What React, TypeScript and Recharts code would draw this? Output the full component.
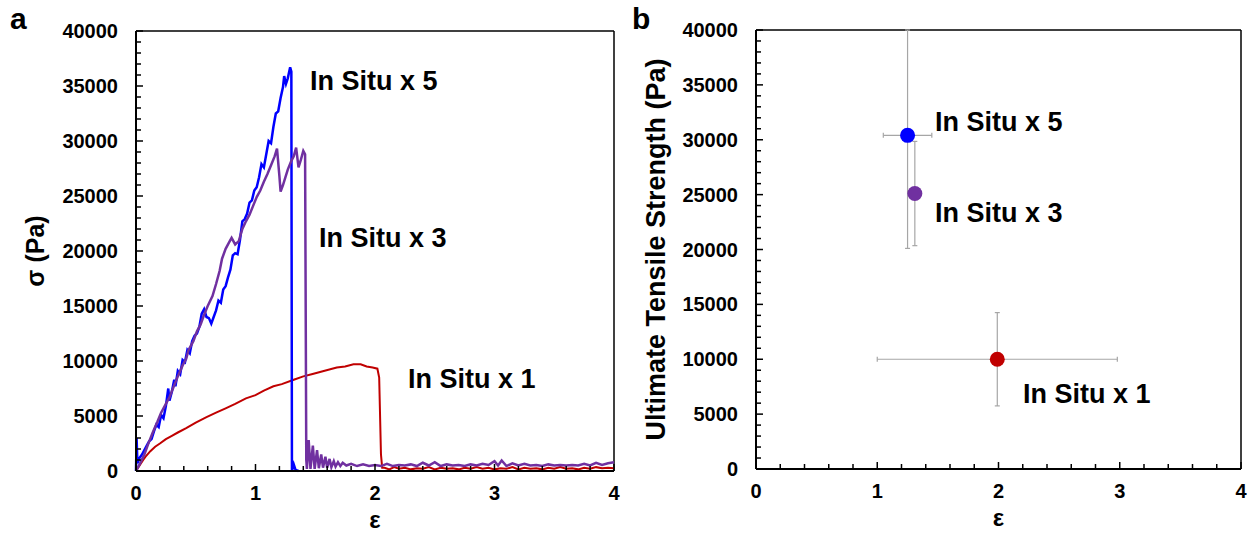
import React from 'react';
import {
  LineChart, Line, ScatterChart, Scatter, ErrorBar, XAxis, YAxis, ReferenceLine, ReferenceDot,
} from 'recharts';

const FONT = '"Liberation Sans", Arial, Helvetica, sans-serif';

// panel a: stress (Pa) vs strain
const inSitu5Curve = [
  [0, 0], [0.005, 3000], [0.012, 700], [0.03, 1200], [0.05, 1500], [0.07, 1900], [0.09, 2300],
  [0.11, 2700], [0.13, 2900], [0.15, 3600], [0.17, 4200], [0.19, 4000], [0.21, 5100], [0.23, 4800],
  [0.25, 5900], [0.27, 7500], [0.28, 6400], [0.3, 7200], [0.32, 8300], [0.33, 7700], [0.35, 9100],
  [0.37, 8800], [0.39, 10100], [0.41, 9900], [0.43, 11000], [0.45, 10700], [0.47, 11800],
  [0.49, 12300], [0.51, 12500], [0.53, 13100], [0.55, 14300], [0.57, 14700], [0.59, 14000],
  [0.61, 13900], [0.63, 13400], [0.65, 14000], [0.67, 14600], [0.69, 15500], [0.71, 15300],
  [0.73, 16500], [0.75, 16800], [0.77, 17600], [0.79, 18300], [0.81, 19600], [0.83, 19800],
  [0.85, 19700], [0.87, 21000], [0.89, 22700], [0.91, 22900], [0.93, 23400], [0.95, 24400],
  [0.97, 24600], [0.99, 25500], [1.01, 25800], [1.03, 26700], [1.05, 27900], [1.07, 27600],
  [1.09, 28800], [1.11, 30000], [1.13, 29800], [1.15, 31300], [1.17, 32500], [1.19, 32700],
  [1.21, 33900], [1.23, 34900], [1.24, 35900], [1.255, 35200], [1.27, 35700], [1.29, 36700],
  [1.3, 36300], [1.305, 0], [1.32, 600], [1.335, 100], [1.36, 0],
];

const inSitu3Curve = [
  [0, 0], [0.03, 600], [0.07, 1500], [0.1, 2400], [0.14, 3500], [0.18, 4500], [0.21, 5300],
  [0.25, 6100], [0.28, 6700], [0.32, 7800], [0.35, 8600], [0.39, 9600], [0.42, 10200],
  [0.44, 11000], [0.48, 11800], [0.51, 12700], [0.54, 13300], [0.57, 14200], [0.6, 15000],
  [0.64, 15900], [0.67, 17000], [0.7, 18200], [0.72, 19300], [0.75, 20200], [0.78, 20800],
  [0.8, 21200], [0.83, 20600], [0.86, 20900], [0.89, 22000], [0.92, 22700], [0.95, 23300],
  [0.98, 24100], [1.01, 24900], [1.04, 25500], [1.07, 26300], [1.1, 27000], [1.13, 27800],
  [1.16, 28600], [1.18, 29300], [1.2, 26800], [1.21, 25400], [1.23, 26000], [1.25, 26700],
  [1.27, 27400], [1.3, 28200], [1.32, 28600], [1.34, 29400], [1.36, 27600], [1.38, 28300],
  [1.4, 29100], [1.415, 28800], [1.425, 1000], [1.43, 200], [1.445, 2800], [1.46, 200],
  [1.48, 2300], [1.495, 200], [1.515, 1900], [1.53, 250], [1.55, 1500], [1.565, 300],
  [1.585, 1300], [1.6, 300], [1.62, 1100], [1.635, 350], [1.655, 900], [1.67, 400], [1.69, 800],
  [1.71, 450], [1.73, 750], [1.76, 500], [1.8, 650], [1.85, 450], [1.9, 600], [1.95, 450],
  [2.0, 550], [2.05, 450], [2.1, 650], [2.15, 450], [2.2, 550], [2.25, 500], [2.3, 600],
  [2.35, 450], [2.4, 750], [2.45, 500], [2.5, 800], [2.55, 450], [2.6, 600], [2.65, 500],
  [2.7, 550], [2.75, 450], [2.8, 600], [2.85, 500], [2.9, 650], [2.95, 550], [3.0, 900],
  [3.03, 500], [3.06, 950], [3.1, 450], [3.15, 700], [3.2, 500], [3.25, 650], [3.3, 500],
  [3.35, 550], [3.4, 450], [3.45, 600], [3.5, 500], [3.55, 550], [3.6, 500], [3.65, 550],
  [3.7, 500], [3.75, 650], [3.8, 500], [3.85, 750], [3.9, 550], [3.95, 700], [4.0, 800],
];

const inSitu1Curve = [
  [0, 0], [0.03, 500], [0.06, 1000], [0.08, 1300], [0.12, 1800], [0.16, 2200], [0.2, 2500],
  [0.25, 2900], [0.3, 3200], [0.35, 3500], [0.42, 3900], [0.5, 4400], [0.59, 4900],
  [0.67, 5300], [0.75, 5700], [0.83, 6100], [0.92, 6600], [1.0, 6900], [1.07, 7300],
  [1.15, 7700], [1.22, 7900], [1.32, 8300], [1.4, 8600], [1.47, 8800], [1.54, 9000],
  [1.61, 9200], [1.68, 9400], [1.75, 9500], [1.82, 9700], [1.88, 9700], [1.93, 9500],
  [1.98, 9400], [2.02, 9300], [2.035, 8500], [2.05, 1500], [2.06, 300], [2.08, 300],
  [2.12, 150], [2.16, 350], [2.2, 200], [2.25, 300], [2.3, 150], [2.35, 250], [2.4, 200],
  [2.45, 350], [2.5, 150], [2.55, 300], [2.6, 200], [2.65, 250], [2.7, 150], [2.75, 300],
  [2.8, 200], [2.85, 350], [2.9, 200], [2.95, 300], [3.0, 150], [3.05, 250], [3.1, 200],
  [3.15, 350], [3.2, 150], [3.25, 300], [3.3, 200], [3.35, 250], [3.4, 150], [3.45, 300],
  [3.5, 200], [3.55, 350], [3.6, 200], [3.65, 250], [3.7, 150], [3.75, 300], [3.8, 200],
  [3.85, 350], [3.9, 250], [3.95, 300], [4.0, 250],
];

// panel b: ultimate tensile strength with error bars
const uts5 = [{ x: 1.25, y: 30400, ex: 0.2, ey: [10300, 9600] }];
const uts3 = [{ x: 1.31, y: 25100, ey: 4750 }];
const uts1 = [{ x: 1.99, y: 10000, ex: 0.99, ey: 4250 }];

const seriesNames = ['In Situ x 5', 'In Situ x 3', 'In Situ x 1'];
const seriesColors = ['#0000FF', '#7030A0', '#C00000'];

// label anchors (left edge, vertical centre) in data units
const labelsA = [[1.456, 35500], [1.531, 21200], [2.276, 8400]];
const labelsB = [[1.476, 31600], [1.476, 23300], [2.202, 6800]];

const yTicks = [
  0, 1000, 2000, 3000, 4000, 5000, 6000, 7000, 8000, 9000, 10000, 11000, 12000, 13000, 14000,
  15000, 16000, 17000, 18000, 19000, 20000, 21000, 22000, 23000, 24000, 25000, 26000, 27000,
  28000, 29000, 30000, 31000, 32000, 33000, 34000, 35000, 36000, 37000, 38000, 39000, 40000,
];
const yLabels = [0, 5000, 10000, 15000, 20000, 25000, 30000, 35000, 40000];
const xTicks = [0, 0.2, 0.4, 0.6, 0.8, 1, 1.2, 1.4, 1.6, 1.8, 2, 2.2, 2.4, 2.6, 2.8, 3, 3.2, 3.4, 3.6, 3.8, 4];
const xLabels = [0, 1, 2, 3, 4];

const toPts = (arr: number[][]) => arr.map(([x, y]) => ({ x, y }));

const textStyle = { fontFamily: FONT, fontWeight: 'bold' as const, fill: '#000' };

const YTick = ({ x, y, payload }: any) => {
  const major = yLabels.includes(payload.value);
  return (
    <g>
      <line x1={x} x2={x + (major ? 7 : 5)} y1={y} y2={y} stroke="#000" strokeWidth={1.5} />
      {major && (
        <text x={x - 18} y={y} dy={7} textAnchor="end" fontSize={20} {...textStyle}>
          {payload.value}
        </text>
      )}
    </g>
  );
};

const XTick = ({ x, y, payload }: any) => {
  const major = xLabels.includes(payload.value);
  return (
    <g>
      <line x1={x} x2={x} y1={y} y2={y - (major ? 7 : 5)} stroke="#000" strokeWidth={1.5} />
      {major && (
        <text x={x} y={y + 29} textAnchor="middle" fontSize={20} {...textStyle}>
          {payload.value}
        </text>
      )}
    </g>
  );
};

const xTitle = (p: any) => (
  <text x={p.viewBox.x + p.viewBox.width / 2} y={p.viewBox.y + 57} textAnchor="middle" fontSize={24} {...textStyle}>
    ε
  </text>
);

const yTitle = (title: string, letter: string, dx: number, size: number, letterX: number) => (p: any) => {
  const cx = p.viewBox.x - dx;
  const cy = p.viewBox.y + p.viewBox.height / 2;
  return (
    <g>
      <text
        transform={`translate(${cx},${cy}) rotate(-90)`}
        textAnchor="middle"
        dominantBaseline="central"
        fontSize={size}
        {...textStyle}
      >
        {title}
      </text>
      <text x={letterX} y={29} fontSize={30} {...textStyle}>
        {letter}
      </text>
    </g>
  );
};

const seriesLabel = (text: string) => (p: any) => (
  <text x={p.viewBox.x} y={p.viewBox.y} dominantBaseline="central" fontSize={27} {...textStyle}>
    {text}
  </text>
);

const Dot = (p: any) => <circle cx={p.cx} cy={p.cy} r={7.5} fill={p.fill} />;

const axisLine = { stroke: '#000', strokeWidth: 2 };

export default function App() {
  return (
    <div style={{ position: 'absolute', left: 0, top: 0, width: 1253, height: 534, background: '#fff' }}>
      <div style={{ position: 'absolute', left: 0, top: 0 }}>
        <LineChart width={630} height={534} margin={{ top: 31, right: 16, bottom: 0, left: 66 }}>
          <XAxis
            type="number" dataKey="x" domain={[0, 4]} ticks={xTicks} interval={0}
            tickSize={0} tickMargin={0} tickLine={false} tick={<XTick />} axisLine={axisLine}
            height={63} label={{ content: xTitle }}
          />
          <YAxis
            type="number" domain={[0, 40000]} ticks={yTicks} interval={0}
            tickSize={0} tickMargin={0} tickLine={false} tick={<YTick />} axisLine={axisLine}
            width={70} label={{ content: yTitle('σ (Pa)', 'a', 31, 25, 10) }}
          />
          <ReferenceLine y={40000} stroke="#000" strokeWidth={1.5} />
          <ReferenceLine x={4} stroke="#000" strokeWidth={1.5} />
          <Line data={toPts(inSitu1Curve)} dataKey="y" stroke={seriesColors[2]} strokeWidth={2} dot={false} isAnimationActive={false} />
          <Line data={toPts(inSitu5Curve)} dataKey="y" stroke={seriesColors[0]} strokeWidth={2.5} dot={false} isAnimationActive={false} />
          <Line data={toPts(inSitu3Curve)} dataKey="y" stroke={seriesColors[1]} strokeWidth={2.5} dot={false} isAnimationActive={false} />
          {labelsA.map(([x, y], i) => (
            <ReferenceDot key={i} x={x} y={y} r={0} fill="none" stroke="none" label={{ content: seriesLabel(seriesNames[i]) }} />
          ))}
        </LineChart>
      </div>
      <div style={{ position: 'absolute', left: 630, top: 0 }}>
        <ScatterChart width={623} height={534} margin={{ top: 30, right: 12, bottom: 0, left: 56 }}>
          <XAxis
            type="number" dataKey="x" domain={[0, 4]} ticks={xTicks} interval={0}
            tickSize={0} tickMargin={0} tickLine={false} tick={<XTick />} axisLine={axisLine}
            height={65} label={{ content: xTitle }}
          />
          <YAxis
            type="number" dataKey="y" domain={[0, 40000]} ticks={yTicks} interval={0}
            tickSize={0} tickMargin={0} tickLine={false} tick={<YTick />} axisLine={axisLine}
            width={70} label={{ content: yTitle('Ultimate Tensile Strength (Pa)', 'b', 30, 27, 2) }}
          />
          <ReferenceLine y={40000} stroke="#000" strokeWidth={1.5} />
          <ReferenceLine x={4} stroke="#000" strokeWidth={1.5} />
          <Scatter data={uts5} fill={seriesColors[0]} shape={Dot} isAnimationActive={false}>
            <ErrorBar dataKey="ex" direction="x" width={2.5} stroke="#A6A6A6" strokeWidth={1.2} />
            <ErrorBar dataKey="ey" direction="y" width={2.5} stroke="#A6A6A6" strokeWidth={1.2} />
          </Scatter>
          <Scatter data={uts3} fill={seriesColors[1]} shape={Dot} isAnimationActive={false}>
            <ErrorBar dataKey="ey" direction="y" width={2.5} stroke="#A6A6A6" strokeWidth={1.2} />
          </Scatter>
          <Scatter data={uts1} fill={seriesColors[2]} shape={Dot} isAnimationActive={false}>
            <ErrorBar dataKey="ex" direction="x" width={2.5} stroke="#A6A6A6" strokeWidth={1.2} />
            <ErrorBar dataKey="ey" direction="y" width={2.5} stroke="#A6A6A6" strokeWidth={1.2} />
          </Scatter>
          {labelsB.map(([x, y], i) => (
            <ReferenceDot key={i} x={x} y={y} r={0} fill="none" stroke="none" label={{ content: seriesLabel(seriesNames[i]) }} />
          ))}
        </ScatterChart>
      </div>
    </div>
  );
}
